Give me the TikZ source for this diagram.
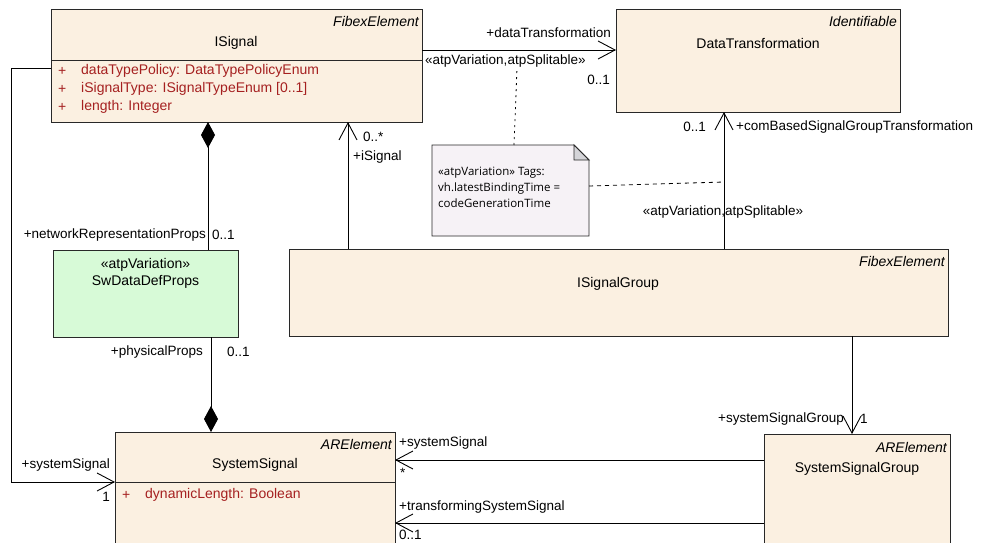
\documentclass[tikz,border=0pt]{standalone}
\usepackage{fontspec}
\setmainfont{Liberation Sans}
\newfontfamily\notefont{Open Sans}
\usetikzlibrary{arrows.meta}
\definecolor{clsfill}{RGB}{251,240,225}
\definecolor{greenfill}{RGB}{215,250,215}
\definecolor{notefill}{RGB}{246,242,246}
\definecolor{foldfill}{RGB}{212,212,216}
\definecolor{attrred}{RGB}{165,32,32}
\definecolor{linecol}{RGB}{40,40,40}
\tikzset{
  cls/.style={draw=linecol, line width=0.9pt, fill=clsfill, anchor=north west, inner sep=0pt, outer sep=0pt},
  lbl/.style={font=\fontsize{13.5}{15}\selectfont, inner sep=0pt, text=black},
  stereo/.style={font=\fontsize{14}{16}\selectfont\itshape, inner sep=0pt, anchor=east},
  cname/.style={font=\fontsize{14}{16}\selectfont, inner sep=0pt},
  attr/.style={font=\fontsize{14}{16}\selectfont, inner sep=0pt, text=attrred, anchor=west},
  conn/.style={draw=black, line width=0.9pt},
  openarr/.style={conn, -{Straight Barb[length=17pt,width=18pt,line width=0.9pt]}},
  compo/.style={conn, {Diamond[length=26pt,width=14pt,fill=black]}-},
  compoend/.style={conn, -{Diamond[length=26pt,width=14pt,fill=black]}},
}
\begin{document}
\begin{tikzpicture}[x=1pt,y=-1pt]
\useasboundingbox[fill=white] (0,0) rectangle (985,543);

% ---------- classes ----------
\node[cls, minimum width=371pt, minimum height=113pt] (isig) at (51,9) {};
\draw[linecol, line width=0.9pt] (isig.west |- 0,60) -- (isig.east |- 0,60);
\node[stereo] at (419,21) {FibexElement};
\node[cname] at (236,43) {ISignal};
\node[attr] at (58,71) {+};
\node[attr] at (81,71) {dataTypePolicy: DataTypePolicyEnum};
\node[attr] at (58,89) {+};
\node[attr] at (81,89) {iSignalType: ISignalTypeEnum [0..1]};
\node[attr] at (58,107) {+};
\node[attr] at (81,107) {length: Integer};

\node[cls, minimum width=284pt, minimum height=103pt] (dt) at (616,9) {};
\node[stereo] at (897,21) {Identifiable};
\node[cname] at (758,43) {DataTransformation};

\node[cls, fill=greenfill, minimum width=185pt, minimum height=87pt] (swd) at (53,250) {};
\node[cname] at (145.5,265) {«atpVariation»};
\node[cname] at (145.5,282) {SwDataDefProps};

\node[cls, minimum width=659pt, minimum height=87pt] (isg) at (289,249) {};
\node[stereo] at (945,261) {FibexElement};
\node[cname] at (618,284) {ISignalGroup};

\node[cls, minimum width=280pt, minimum height=130pt] (sysig) at (115,432) {};
\draw[linecol, line width=0.9pt] (sysig.west |- 0,482) -- (sysig.east |- 0,482);
\node[stereo] at (392,444) {ARElement};
\node[cname] at (255,465) {SystemSignal};
\node[attr] at (122,495) {+};
\node[attr] at (145,495) {dynamicLength: Boolean};

\node[cls, minimum width=186pt, minimum height=128pt] (ssg) at (764,434) {};
\node[stereo] at (947,447) {ARElement};
\node[cname] at (857,469) {SystemSignalGroup};

% ---------- note ----------
\node[inner sep=0pt, outer sep=0pt, anchor=north west, minimum width=157pt, minimum height=91pt] (note) at (432,145) {};
\draw[linecol, line width=0.9pt, fill=notefill] (432,145) -- (574,145) -- (589,160) -- (589,236) -- (432,236) -- cycle;
\draw[linecol, line width=0.9pt, fill=foldfill] (574,145) -- (574,160) -- (589,160) -- cycle;
\node[anchor=north west, align=left, inner sep=0pt, font=\notefont\fontsize{11.5}{16}\selectfont] (notetext) at (438,167)
  {«atpVariation» Tags:\\vh.latestBindingTime =\\codeGenerationTime};

% ---------- connectors ----------
% ISignal -> DataTransformation
\draw[openarr] (isig.east |- 0,50) -- (dt.west |- 0,50);
\node[lbl, anchor=east] at (611,33) {+dataTransformation};
\node[lbl, anchor=west] at (425,61) {«atpVariation,atpSplitable»};
\node[lbl, anchor=east] at (610,80) {0..1};

% note anchors
\coordinate (anchA) at (517,68);
\coordinate (anchB) at (724,182);
\draw[conn, line width=0.8pt, dash pattern=on 2pt off 4pt] (note.north -| 514,0) -- (anchA);
\draw[conn, line width=0.8pt, dash pattern=on 4pt off 4pt] (note.east |- 0,186) -- (anchB);

% ISignalGroup -> DataTransformation
\draw[openarr] (isg.north -| 724,0) -- (dt.south -| 724,0);
\node[lbl, anchor=east] at (706,127) {0..1};
\node[lbl, anchor=west] at (736,127) {+comBasedSignalGroupTransformation};
\node[lbl] at (723,212) {«atpVariation,atpSplitable»};

% ISignalGroup -> ISignal
\draw[openarr] (isg.north -| 348,0) -- (isig.south -| 348,0);
\node[lbl, anchor=west] at (363,137) {0..*};
\node[lbl, anchor=west] at (353,157) {+iSignal};

% ISignal composition SwDataDefProps
\draw[compo] (isig.south -| 208,0) -- (swd.north -| 208,0);
\node[lbl, anchor=east] at (206,235) {+networkRepresentationProps};
\node[lbl, anchor=west] at (212,235) {0..1};

% SwDataDefProps -> SystemSignal (composition)
\draw[compoend] (swd.south -| 211,0) -- (sysig.north -| 211,0);
\node[lbl, anchor=east] at (203,352) {+physicalProps};
\node[lbl, anchor=west] at (227,352) {0..1};

% ISignal -> SystemSignal
\draw[openarr] (isig.west |- 0,68) -| (11,482) -- (sysig.west |- 0,482);
\node[lbl, anchor=east] at (110,465) {+systemSignal};
\node[lbl, anchor=east] at (110,497) {1};

% ISignalGroup -> SystemSignalGroup
\draw[openarr] (isg.south -| 852,0) -- (ssg.north -| 852,0);
\node[lbl, anchor=east] at (844,419) {+systemSignalGroup};
\node[lbl, anchor=west] at (860,419) {1};

% SystemSignalGroup -> SystemSignal
\draw[openarr] (ssg.west |- 0,460) -- (sysig.east |- 0,460);
\node[lbl, anchor=west] at (399,443) {+systemSignal};
\node[lbl, anchor=west] at (400,473) {*};

\draw[openarr] (ssg.west |- 0,523) -- (sysig.east |- 0,523);
\node[lbl, anchor=west] at (399,507) {+transformingSystemSignal};
\node[lbl, anchor=west] at (399,535) {0..1};
\end{tikzpicture}
\end{document}
